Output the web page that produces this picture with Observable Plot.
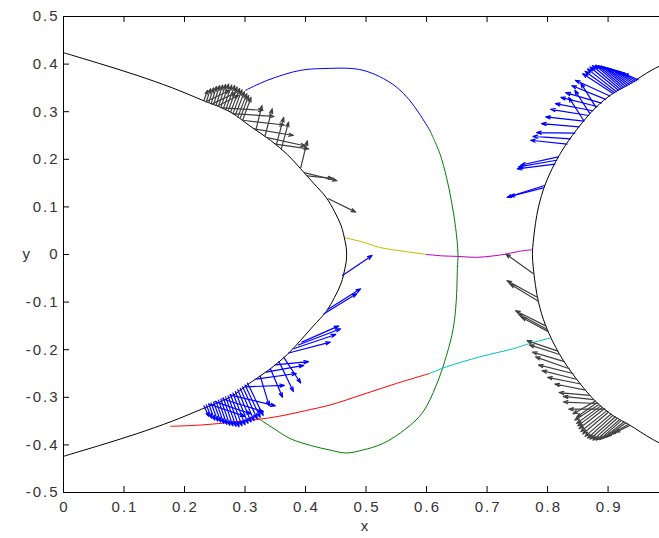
<!DOCTYPE html>
<html><head><meta charset="utf-8">
<script src="https://cdn.jsdelivr.net/npm/d3@7"></script>
<script src="https://cdn.jsdelivr.net/npm/@observablehq/plot@0.6"></script>
<style>body{margin:0;background:#fff;}</style>
</head><body><div id="chart"></div>
<script>
// Axis ticks
const xTicks = [0, 0.1, 0.2, 0.3, 0.4, 0.5, 0.6, 0.7, 0.8, 0.9];
const xTickLabels = ["0", "0.1", "0.2", "0.3", "0.4", "0.5", "0.6", "0.7", "0.8", "0.9"];
const yTicks = [-0.5, -0.4, -0.3, -0.2, -0.1, 0, 0.1, 0.2, 0.3, 0.4, 0.5];
const yTickLabels = ["-0.5", "-0.4", "-0.3", "-0.2", "-0.1", "0", "0.1", "0.2", "0.3", "0.4", "0.5"];

// Left boundary (upper half, mirrored below)
const leftX = [0, 0.06, 0.12, 0.18, 0.228, 0.275, 0.308, 0.342, 0.370, 0.392, 0.413, 0.434, 0.448, 0.459, 0.465, 0.4672, 0.468];
const leftY = [0.424, 0.401, 0.377, 0.350, 0.325, 0.300, 0.270, 0.240, 0.210, 0.180, 0.150, 0.120, 0.090, 0.060, 0.030, 0.015, 0];
// Right boundary (upper half from vertex outward, mirrored below)
const rightX = [0.775, 0.7755, 0.777, 0.780, 0.785, 0.797, 0.820, 0.848, 0.879, 0.907, 0.934, 0.973, 1.0];
const rightY = [0, 0.015, 0.035, 0.065, 0.10, 0.15, 0.21, 0.262, 0.308, 0.3375, 0.357, 0.388, 0.405];

// Coloured trajectory pieces
const blueX = [0.301, 0.337, 0.392, 0.440, 0.473, 0.495, 0.522, 0.550, 0.572, 0.588, 0.605];
const blueY = [0.345, 0.366, 0.387, 0.391, 0.391, 0.387, 0.374, 0.352, 0.324, 0.296, 0.262];
const greenX = [0.605, 0.622, 0.633, 0.641, 0.648, 0.652, 0.651, 0.649, 0.644, 0.633, 0.616, 0.594, 0.566, 0.528, 0.494, 0.467, 0.441, 0.408, 0.375, 0.348, 0.331, 0.320];
const greenY = [0.262, 0.212, 0.162, 0.113, 0.057, 0.000, -0.029, -0.099, -0.156, -0.212, -0.275, -0.331, -0.366, -0.397, -0.411, -0.417, -0.411, -0.401, -0.387, -0.366, -0.352, -0.343];
const yellowX = [0.466, 0.495, 0.522, 0.561, 0.600];
const yellowY = [0.035, 0.026, 0.015, 0.007, 0.000];
const magentaX = [0.600, 0.627, 0.652, 0.682, 0.710, 0.732, 0.754, 0.775];
const magentaY = [0.000, -0.003, -0.004, -0.006, -0.003, 0.001, 0.007, 0.010];
const redX = [0.177, 0.230, 0.281, 0.330, 0.364, 0.400, 0.441, 0.495, 0.550, 0.605];
const redY = [-0.361, -0.358, -0.352, -0.345, -0.338, -0.328, -0.316, -0.294, -0.271, -0.250];
const cyanX = [0.605, 0.633, 0.688, 0.743, 0.770, 0.803];
const cyanY = [-0.250, -0.236, -0.215, -0.198, -0.187, -0.176];

// Arrows [x1, y1, x2, y2]
const grayArrowsLeft = [
  [0.232,0.323,0.238,0.345],[0.240,0.319,0.248,0.350],[0.248,0.315,0.258,0.355],
  [0.256,0.311,0.268,0.357],[0.264,0.306,0.278,0.356],[0.272,0.302,0.287,0.352],
  [0.280,0.296,0.295,0.346],[0.288,0.289,0.303,0.338],[0.296,0.282,0.310,0.330],
  [0.236,0.321,0.243,0.348],[0.244,0.317,0.253,0.353],[0.252,0.313,0.263,0.356],
  [0.260,0.309,0.273,0.358],[0.268,0.304,0.283,0.355],[0.276,0.299,0.291,0.349],
  [0.284,0.293,0.299,0.342],[0.292,0.286,0.306,0.334],
  [0.235,0.321,0.275,0.345],[0.245,0.316,0.285,0.340],[0.255,0.312,0.290,0.335],
  [0.318,0.262,0.328,0.313],[0.333,0.249,0.345,0.306],[0.352,0.232,0.364,0.288],
  [0.360,0.222,0.372,0.278],[0.392,0.182,0.403,0.239],
  [0.262,0.308,0.330,0.303],[0.280,0.296,0.348,0.290],[0.296,0.282,0.365,0.272],
  [0.315,0.264,0.380,0.250],[0.335,0.246,0.400,0.228],[0.350,0.232,0.405,0.222],
  [0.398,0.172,0.452,0.155],[0.403,0.165,0.445,0.160],[0.438,0.117,0.483,0.089]
];
const blueArrowsLeft = [
  [0.232,-0.318,0.240,-0.340],[0.240,-0.314,0.250,-0.348],[0.248,-0.310,0.260,-0.352],
  [0.256,-0.306,0.270,-0.357],[0.264,-0.301,0.280,-0.360],[0.272,-0.297,0.290,-0.362],
  [0.280,-0.291,0.300,-0.358],[0.288,-0.284,0.310,-0.352],[0.296,-0.278,0.320,-0.345],
  [0.304,-0.270,0.330,-0.338],
  [0.236,-0.316,0.245,-0.344],[0.244,-0.312,0.255,-0.350],[0.252,-0.308,0.265,-0.355],
  [0.260,-0.304,0.275,-0.359],[0.268,-0.299,0.285,-0.361],[0.276,-0.294,0.295,-0.360],
  [0.284,-0.288,0.305,-0.355],[0.292,-0.281,0.315,-0.349],[0.300,-0.274,0.325,-0.342],
  [0.240,-0.314,0.300,-0.340],[0.250,-0.309,0.310,-0.335],[0.262,-0.303,0.330,-0.330],
  [0.275,-0.295,0.350,-0.318],
  [0.325,-0.255,0.340,-0.318],[0.342,-0.240,0.362,-0.300],[0.356,-0.225,0.380,-0.288],
  [0.364,-0.216,0.392,-0.270],
  [0.300,-0.278,0.365,-0.275],[0.318,-0.262,0.385,-0.250],[0.335,-0.247,0.397,-0.233],
  [0.350,-0.232,0.405,-0.225],
  [0.372,-0.207,0.441,-0.184],[0.380,-0.198,0.450,-0.168],[0.388,-0.190,0.458,-0.156],
  [0.394,-0.184,0.455,-0.150],[0.430,-0.125,0.485,-0.082],[0.436,-0.116,0.491,-0.072],
  [0.461,-0.044,0.510,-0.002]
];
const blueArrowsRight = [
  [0.795,0.145,0.733,0.120],[0.793,0.140,0.738,0.122],
  [0.812,0.190,0.750,0.180],[0.815,0.198,0.752,0.184],[0.818,0.205,0.756,0.188],
  [0.832,0.232,0.772,0.240],[0.838,0.243,0.776,0.248],[0.845,0.255,0.782,0.256],
  [0.852,0.268,0.790,0.275],[0.860,0.280,0.797,0.289],
  [0.868,0.292,0.805,0.305],[0.875,0.302,0.813,0.317],
  [0.882,0.311,0.822,0.330],[0.889,0.318,0.830,0.340],
  [0.896,0.326,0.840,0.355],[0.903,0.333,0.846,0.366],
  [0.860,0.281,0.835,0.330],[0.870,0.296,0.845,0.345],[0.880,0.309,0.855,0.360],
  [0.908,0.338,0.858,0.380],[0.914,0.342,0.866,0.390],[0.920,0.347,0.874,0.397],
  [0.926,0.351,0.884,0.397],[0.932,0.355,0.894,0.394],[0.938,0.359,0.904,0.390],
  [0.944,0.363,0.914,0.386],[0.950,0.367,0.926,0.380],
  [0.911,0.340,0.862,0.385],[0.917,0.345,0.870,0.394],[0.923,0.349,0.879,0.398],
  [0.929,0.353,0.889,0.396],[0.935,0.357,0.899,0.392],[0.941,0.361,0.909,0.388],
  [0.947,0.365,0.920,0.383]
];
const grayArrowsRight = [
  [0.776,-0.040,0.731,0.001],
  [0.783,-0.090,0.733,-0.055],[0.785,-0.098,0.738,-0.062],
  [0.797,-0.150,0.747,-0.118],[0.799,-0.157,0.752,-0.125],[0.801,-0.162,0.757,-0.132],
  [0.817,-0.203,0.766,-0.181],[0.820,-0.210,0.770,-0.190],
  [0.828,-0.225,0.775,-0.205],[0.836,-0.240,0.780,-0.215],[0.842,-0.250,0.785,-0.232],
  [0.848,-0.262,0.791,-0.244],[0.855,-0.272,0.800,-0.258],[0.863,-0.285,0.812,-0.272],
  [0.870,-0.296,0.819,-0.290],[0.876,-0.305,0.826,-0.298],
  [0.883,-0.313,0.826,-0.310],[0.895,-0.325,0.835,-0.325],
  [0.879,-0.308,0.842,-0.335],[0.885,-0.315,0.845,-0.348],[0.891,-0.321,0.850,-0.360],
  [0.898,-0.328,0.855,-0.372],[0.905,-0.335,0.862,-0.382],[0.912,-0.341,0.870,-0.388],
  [0.919,-0.347,0.880,-0.390],[0.926,-0.352,0.892,-0.386],[0.933,-0.357,0.905,-0.378],
  [0.882,-0.311,0.848,-0.342],[0.888,-0.318,0.848,-0.355],[0.894,-0.324,0.852,-0.366],
  [0.901,-0.331,0.858,-0.377],[0.908,-0.338,0.866,-0.386],[0.915,-0.344,0.875,-0.390],
  [0.922,-0.349,0.886,-0.389],[0.929,-0.354,0.898,-0.383],[0.936,-0.359,0.912,-0.374]
];

// Build tables
const pts = (xs, ys) => xs.map((x, i) => ({x, y: ys[i]}));
const leftCurve = pts(
  leftX.concat(leftX.slice(0, -1).reverse()),
  leftY.concat(leftY.slice(0, -1).reverse().map(v => -v))
);
const rightCurve = pts(
  rightX.slice().reverse().concat(rightX.slice(1)),
  rightY.slice().reverse().concat(rightY.slice(1).map(v => -v))
);

const W = 659, H = 538, ML = 63, MR = 0, MT = 16, MB = 46;
const innerW = W - ML - MR, innerH = H - MT - MB, tick = 6;

const lineOpts = (stroke) => ({x: "x", y: "y", stroke, strokeWidth: 1, curve: "catmull-rom", clip: true});
const arrowOpts = (stroke) => ({
  x1: d => d[0], y1: d => d[1], x2: d => d[2], y2: d => d[3],
  stroke, strokeWidth: 1.2, headLength: 6, headAngle: 38, clip: true
});

const chart = Plot.plot({
  width: W, height: H,
  marginLeft: ML, marginRight: MR, marginTop: MT, marginBottom: MB,
  x: {domain: [0, 0.985]},
  y: {domain: [-0.5, 0.5]},
  style: "font-family: 'Liberation Sans', Arial, sans-serif; font-size: 15px; letter-spacing: 2px; color: #333; background: #fff;",
  marks: [
    Plot.line(leftCurve, lineOpts("#000")),
    Plot.line(rightCurve, lineOpts("#000")),
    Plot.line(pts(blueX, blueY), lineOpts("#0000ff")),
    Plot.line(pts(greenX, greenY), lineOpts("#008000")),
    Plot.line(pts(yellowX, yellowY), lineOpts("#bfbf00")),
    Plot.line(pts(magentaX, magentaY), lineOpts("#bf00bf")),
    Plot.line(pts(redX, redY), lineOpts("#ff0000")),
    Plot.line(pts(cyanX, cyanY), lineOpts("#00bfbf")),
    Plot.arrow(grayArrowsLeft, arrowOpts("#404040")),
    Plot.arrow(blueArrowsLeft, arrowOpts("#0000ff")),
    Plot.arrow(blueArrowsRight, arrowOpts("#0000ff")),
    Plot.arrow(grayArrowsRight, arrowOpts("#404040")),
    // axis box lines (left, top, bottom)
    Plot.ruleX([0], {stroke: "#000", strokeWidth: 1}),
    Plot.ruleY([0.5], {stroke: "#000", strokeWidth: 1}),
    Plot.ruleY([-0.5], {stroke: "#000", strokeWidth: 1}),
    // inward ticks
    Plot.tickX(xTicks, {x: d => d, insetTop: innerH - tick, stroke: "#000"}),
    Plot.tickX(xTicks, {x: d => d, insetBottom: innerH - tick, stroke: "#000"}),
    Plot.tickY(yTicks, {y: d => d, insetRight: innerW - tick, stroke: "#000"}),
    Plot.axisX(xTicks, {
      anchor: "bottom", tickSize: 0, tickPadding: 9, label: null, dx: 1,
      tickFormat: d => xTickLabels[xTicks.indexOf(d)]
    }),
    Plot.axisY(yTicks, {
      anchor: "left", tickSize: 0, tickPadding: 4, label: null,
      tickFormat: d => yTickLabels[yTicks.indexOf(d)]
    }),
    Plot.text(["x"], {text: d => d, frameAnchor: "bottom", dy: 38, dx: 4, fill: "#333", fontSize: 15}),
    Plot.text(["y"], {text: d => d, frameAnchor: "left", dx: -41, fill: "#333", fontSize: 15})
  ]
});
document.getElementById("chart").appendChild(chart);
</script></body></html>
